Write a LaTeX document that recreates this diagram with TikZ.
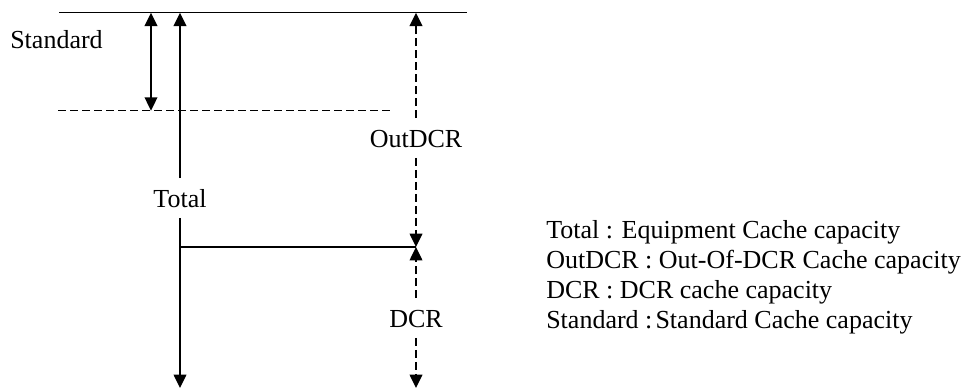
\documentclass[tikz,border=0pt]{standalone}
\usepackage{fontspec}
\setmainfont{Liberation Serif}
\usetikzlibrary{arrows.meta}
\begin{document}
\begin{tikzpicture}[x=0.75pt,y=-0.75pt,
  every node/.style={font=\fontsize{19.5}{22.5}\selectfont},
  lbl/.style={inner xsep=2pt,inner ysep=8pt,text height=13.5pt,text depth=0pt,anchor=base},
  legend/.style={inner sep=0pt,anchor=base west},
  solidline/.style={line width=1.1pt},
  dashline/.style={line width=1.1pt,dash pattern=on 6pt off 3pt},
  tip/.style={-{Triangle[length=10pt,width=9.5pt]}},
  dtip/.style={{Triangle[length=10pt,width=9.5pt]}-{Triangle[length=10pt,width=9.5pt]}}]
\useasboundingbox (0,0) rectangle (968,390);
% reference points
\coordinate (topL) at (59,12.7);
\coordinate (topR) at (467,12.7);
\coordinate (dashL) at (58,110.7);
\coordinate (dashR) at (393,110.7);
\coordinate (stdTop) at (151,12.7);
\coordinate (stdBot) at (151,110.7);
\coordinate (totTop) at (180,12.7);
\coordinate (totMid) at (180,247);
\coordinate (totBot) at (180,388);
\coordinate (outTop) at (416,12.7);
\coordinate (outBot) at (416,247);
\coordinate (dcrBot) at (416,388);
% labels
\node[lbl] (std) at (56.5,48) {Standard};
\node[lbl] (tot) at (180,207) {Total};
\node[lbl] (out) at (416,147) {OutDCR};
\node[lbl] (dcr) at (416,327) {DCR};
% lines
\draw[line width=0.9pt] (topL) -- (topR);
\draw[line width=0.9pt,dash pattern=on 6pt off 3pt] (dashL) -- (dashR);
\draw[solidline,dtip] (stdTop) -- (stdBot);
\draw[solidline,tip] (tot.north) -- (totTop);
\draw[solidline,tip] (tot.south) -- (totBot);
\draw[line width=0.9pt] (totMid) -- (outBot);
\draw[dashline,tip] (out.north) -- (outTop);
\draw[dashline,tip] (out.south) -- (outBot);
\draw[dashline,tip] (dcr.north) -- (outBot);
\draw[dashline,tip] (dcr.south) -- (dcrBot);
% legend
\node[legend] (l1) at (546,238) {Total : Equipment Cache capacity};
\node[legend] (l2) at (546,268) {OutDCR : Out-Of-DCR Cache capacity};
\node[legend] (l3) at (546,298) {DCR : DCR cache capacity};
\node[legend] (l4) at (546,328) {Standard :\hspace{0.12em}Standard Cache capacity};
\end{tikzpicture}
\end{document}
